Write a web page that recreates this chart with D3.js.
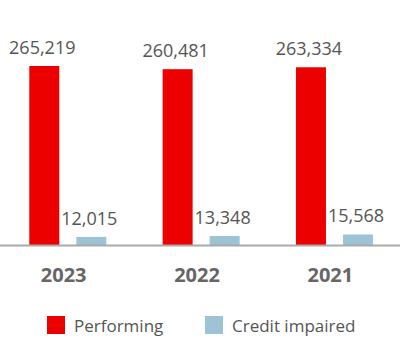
<!DOCTYPE html>
<html>
<head>
<meta charset="utf-8">
<script src="https://cdn.jsdelivr.net/npm/d3@7"></script>
<style>
  html, body { margin: 0; padding: 0; background: #fff; }
  svg { display: block; }
</style>
</head>
<body>
<svg id="chart" width="400" height="340"></svg>
<script>
const years = ["2023", "2022", "2021"];
const performing = [265219, 260481, 263334];
const creditImpaired = [12015, 13348, 15568];
const seriesNames = ["Performing", "Credit impaired"];
const seriesColors = ["#EC0000", "#9DC4D4"];

const svg = d3.select("#chart");
const W = 400, baseY = 245, topY = 66;
const fmt = d3.format(",");
const font = "'Open Sans', 'Noto Sans', sans-serif";

const x0 = d3.scaleBand().domain(years).range([0, W]).paddingInner(0).paddingOuter(0);
const x1 = d3.scaleBand().domain(seriesNames).range([29.3, 106.3]).paddingInner(0.362).paddingOuter(0);
const y = d3.scaleLinear().domain([0, 265219]).range([baseY, topY]);

const data = years.map((yr, i) => ({ year: yr, values: [performing[i], creditImpaired[i]] }));

const groups = svg.selectAll("g.grp").data(data).join("g")
  .attr("class", "grp")
  .attr("transform", d => `translate(${x0(d.year)},0)`);

groups.selectAll("rect").data(d => d.values.map((v, j) => ({ v, s: seriesNames[j], c: seriesColors[j] })))
  .join("rect")
  .attr("x", d => x1(d.s))
  .attr("width", x1.bandwidth())
  .attr("y", d => y(d.v))
  .attr("height", d => baseY - y(d.v))
  .attr("fill", d => d.c);

groups.selectAll("text.val").data(d => d.values.map((v, j) => ({ v, s: seriesNames[j] })))
  .join("text")
  .attr("class", "val")
  .attr("x", d => x1(d.s) + x1.bandwidth() / 2 - 2)
  .attr("y", d => y(d.v) - 12)
  .attr("text-anchor", "middle")
  .attr("font-family", font)
  .attr("font-size", 18)
  .attr("fill", "#555")
  .text(d => fmt(d.v));

// baseline
svg.append("line")
  .attr("x1", 0).attr("x2", W)
  .attr("y1", baseY + 0.5).attr("y2", baseY + 0.5)
  .attr("stroke", "#aaa").attr("stroke-width", 2);

// x axis labels
const xAxis = d3.axisBottom(x0).tickSize(0).tickPadding(0);
const ax = svg.append("g").attr("transform", `translate(-3,${baseY})`).call(xAxis);
ax.select(".domain").remove();
ax.selectAll("text")
  .attr("dy", 0)
  .attr("y", 37)
  .attr("font-family", font)
  .attr("font-size", 20)
  .attr("font-weight", "bold")
  .attr("fill", "#666");

// legend
const legend = svg.append("g");
const legX = [47, 205];
seriesNames.forEach((name, i) => {
  legend.append("rect")
    .attr("x", legX[i]).attr("y", 316)
    .attr("width", 18).attr("height", 18)
    .attr("fill", seriesColors[i]);
  legend.append("text")
    .attr("x", legX[i] + 27).attr("y", 332)
    .attr("font-family", font)
    .attr("font-size", 17)
    .attr("fill", "#555")
    .text(name);
});
</script>
</body>
</html>
